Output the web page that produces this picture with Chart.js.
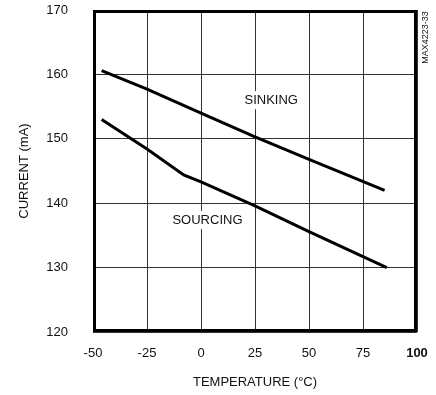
<!DOCTYPE html>
<html>
<head>
<meta charset="utf-8">
<script src="https://cdn.jsdelivr.net/npm/chart.js@4/dist/chart.umd.min.js"></script>
<style>
  html, body { margin: 0; padding: 0; background: #fff; }
  #wrap { width: 436px; height: 395px; position: relative; }
</style>
</head>
<body>
<div id="wrap"><canvas id="c" width="436" height="395"></canvas></div>
<script>
// ---- Data ----
const sinkingTemps = [-46, -25, 0, 25, 50, 85];
const sinkingCurrent = [160.6, 157.7, 154.0, 150.3, 146.8, 142.0];
const sourcingTemps = [-46, -25, -8, 0, 25, 50, 75, 86];
const sourcingCurrent = [153.0, 148.4, 144.4, 143.3, 139.6, 135.6, 131.7, 130.0];
const xTicks = [-50, -25, 0, 25, 50, 75, 100];
const yTicks = [120, 130, 140, 150, 160, 170];
const seriesLabels = ['SINKING', 'SOURCING'];
const labelPos = [[32.5, 156.0], [3.0, 137.4]];
const xTitle = 'TEMPERATURE (°C)';
const yTitle = 'CURRENT (mA)';
const figureId = 'MAX4223-33';

const FONT = '"Liberation Sans", Arial, Helvetica, sans-serif';
const TXT = '#111';

const pts = (xs, ys) => xs.map((x, i) => ({ x: x, y: ys[i] }));

const overlay = {
  id: 'overlay',
  afterDraw(chart) {
    const { ctx, chartArea: a, scales } = chart;
    ctx.save();
    // series labels with white background
    ctx.font = '13px ' + FONT;
    ctx.textAlign = 'center';
    ctx.textBaseline = 'middle';
    seriesLabels.forEach((t, i) => {
      const px = scales.x.getPixelForValue(labelPos[i][0]);
      const py = scales.y.getPixelForValue(labelPos[i][1]);
      const w = ctx.measureText(t).width;
      ctx.fillStyle = '#fff';
      ctx.fillRect(px - w / 2 - 3, py - 9, w + 6, 18);
      ctx.fillStyle = TXT;
      ctx.fillText(t, px, py);
    });
    // frame
    ctx.strokeStyle = '#000';
    ctx.lineWidth = 3;
    ctx.strokeRect(a.left + 1.5, a.top + 1.5, a.width - 3, a.height - 3);
    // figure id
    ctx.font = '9px ' + FONT;
    ctx.fillStyle = TXT;
    ctx.translate(426, 37.5);
    ctx.rotate(-Math.PI / 2);
    ctx.textAlign = 'center';
    ctx.textBaseline = 'middle';
    ctx.fillText(figureId, 0, 0);
    ctx.restore();
  }
};

new Chart(document.getElementById('c'), {
  type: 'line',
  data: {
    datasets: [
      { label: seriesLabels[0], data: pts(sinkingTemps, sinkingCurrent),
        borderColor: '#000', borderWidth: 3, pointRadius: 0, tension: 0, fill: false },
      { label: seriesLabels[1], data: pts(sourcingTemps, sourcingCurrent),
        borderColor: '#000', borderWidth: 3, pointRadius: 0, tension: 0, fill: false }
    ]
  },
  options: {
    responsive: false,
    animation: false,
    devicePixelRatio: 1,
    layout: { padding: { top: 10, right: 19, left: 0, bottom: 0 } },
    plugins: { legend: { display: false }, tooltip: { enabled: false } },
    scales: {
      x: {
        type: 'linear', min: xTicks[0], max: xTicks[xTicks.length - 1],
        afterBuildTicks: s => { s.ticks = xTicks.map(v => ({ value: v })); },
        afterFit: s => { s.height = 63; },
        grid: { color: '#333', lineWidth: 1, drawTicks: true, tickLength: 14, tickColor: 'rgba(0,0,0,0)' },
        border: { display: false },
        ticks: {
          padding: 0, color: TXT, maxRotation: 0,
          font: ctx => ({ family: FONT, size: 13, weight: ctx.tick && ctx.tick.value === 100 ? 'bold' : 'normal' }),
          callback: v => String(v)
        },
        title: { display: true, text: xTitle, color: TXT, font: { family: FONT, size: 13 }, padding: { top: 0, bottom: 5 } }
      },
      y: {
        type: 'linear', min: yTicks[0], max: yTicks[yTicks.length - 1],
        afterBuildTicks: s => { s.ticks = yTicks.map(v => ({ value: v })); },
        afterFit: s => { s.width = 93; },
        grid: { color: '#333', lineWidth: 1, drawTicks: true, tickLength: 25, tickColor: 'rgba(0,0,0,0)' },
        border: { display: false },
        ticks: { padding: 0, color: TXT, font: { family: FONT, size: 13 }, callback: v => String(v) },
        title: { display: true, text: yTitle, color: TXT, font: { family: FONT, size: 13 }, padding: { top: 17, bottom: 0 } }
      }
    }
  },
  plugins: [overlay]
});
</script>
</body>
</html>
